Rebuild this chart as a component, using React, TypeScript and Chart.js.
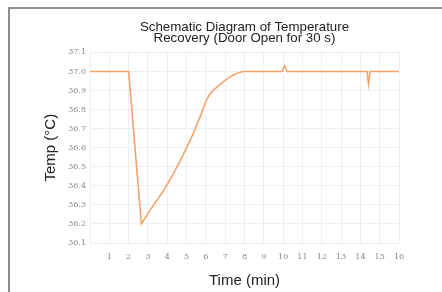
import React, { useEffect, useRef } from "react";
import { Chart, registerables } from "chart.js";

Chart.register(...registerables);

const chartTitle = ["Schematic Diagram of Temperature", "Recovery (Door Open for 30 s)"];
const xAxisTitle = "Time (min)";
const yAxisTitle = "Temp (°C)";

const timeMin = [0, 2.0, 2.66, 3.09, 3.78, 4.3, 4.81, 5.33, 5.77, 5.92, 6.03, 6.2, 6.37, 6.6, 6.89, 7.15, 7.4, 7.65, 7.92, 9.95, 10.07, 10.2, 14.35, 14.42, 14.5, 16];
const tempC = [37.0, 37.0, 36.2, 36.27, 36.37, 36.46, 36.56, 36.67, 36.78, 36.82, 36.85, 36.88, 36.9, 36.92, 36.945, 36.965, 36.98, 36.992, 37.0, 37.0, 37.03, 37.0, 37.0, 36.935, 37.0, 37.0];

const xMin = 0;
const xMax = 16;
const yMin = 36.1;
const yMax = 37.1;

export default function App() {
  const ref = useRef<HTMLCanvasElement | null>(null);

  useEffect(() => {
    if (!ref.current) return;
    const points = timeMin.map((t, i) => ({ x: t, y: tempC[i] }));
    const tickFont = { family: "'DejaVu Serif', serif", size: 8 };
    const chart = new Chart(ref.current, {
      type: "line",
      data: {
        datasets: [
          {
            data: points,
            borderColor: "#f4a46a",
            borderWidth: 1.6,
            pointRadius: 0,
            tension: 0,
            fill: false,
          },
        ],
      },
      options: {
        responsive: false,
        animation: false,
        layout: { padding: { left: 0, right: 43, top: 0, bottom: 0 } },
        plugins: {
          legend: { display: false },
          tooltip: { enabled: false },
          title: {
            display: true,
            text: chartTitle,
            fullSize: false,
            color: "#222",
            font: { family: "'Liberation Sans', Arial, sans-serif", size: 13.3, weight: "normal", lineHeight: 0.88 },
            padding: { top: 21, bottom: 8 },
          },
        },
        scales: {
          x: {
            type: "linear",
            min: xMin,
            max: xMax,
            afterFit: (s: any) => { s.height = 49; },
            ticks: {
              stepSize: 1,
              padding: 9,
              color: "#8a8a8a",
              font: tickFont,
              maxRotation: 0,
              callback: (v: any) => (Number(v) === 0 ? "" : String(v)),
            },
            grid: { color: "#efefef", drawTicks: false },
            border: { display: false },
            title: {
              display: true,
              text: xAxisTitle,
              color: "#222",
              font: { family: "'Liberation Sans', Arial, sans-serif", size: 15, lineHeight: 1.2 },
              padding: { top: 0, bottom: 2 },
            },
          },
          y: {
            type: "linear",
            min: yMin,
            max: yMax,
            afterFit: (s: any) => { s.width = 90; },
            ticks: {
              stepSize: 0.1,
              padding: 4,
              color: "#8a8a8a",
              font: tickFont,
              callback: (v: any) => Number(v).toFixed(1),
            },
            grid: { color: "#efefef", drawTicks: false },
            border: { display: false },
            title: {
              display: true,
              text: yAxisTitle,
              color: "#222",
              font: { family: "'Liberation Sans', Arial, sans-serif", size: 15, lineHeight: 1.2 },
              padding: { top: 42, bottom: 0 },
            },
          },
        },
      },
    });
    return () => chart.destroy();
  }, []);

  return (
    <div style={{ position: "absolute", left: 0, top: 0, width: 442, height: 292, overflow: "hidden", background: "#fff" }}>
      <div style={{ position: "absolute", left: 8, top: 7, width: 434, height: 2, background: "#8c8c8c" }} />
      <div style={{ position: "absolute", left: 8, top: 7, width: 2, height: 285, background: "#8c8c8c" }} />
      <canvas ref={ref} width={442} height={292} style={{ position: "absolute", left: 0, top: 0 }} />
    </div>
  );
}
